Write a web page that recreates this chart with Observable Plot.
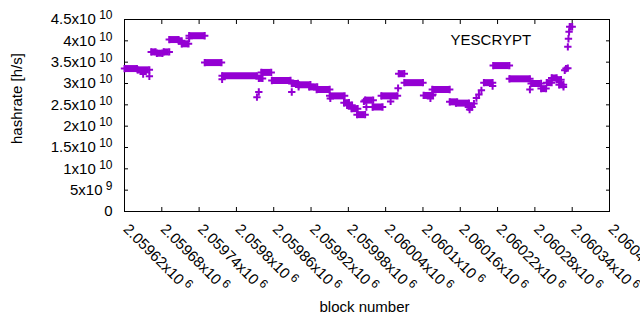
<!DOCTYPE html>
<html><head><meta charset="utf-8">
<script src="https://cdn.jsdelivr.net/npm/d3@7"></script>
<script src="https://cdn.jsdelivr.net/npm/@observablehq/plot@0.6"></script>
<style>html,body{margin:0;padding:0;background:#fff;overflow:hidden}</style>
</head><body><div id="chart"></div>
<script>
// Runs of consecutive blocks sharing one hashrate value (block numbers, h/s)
const runStart = [2059620, 2059641, 2059663, 2059672, 2059683, 2059692, 2059707, 2059712, 2059724, 2059749,
  2059777, 2059836, 2059840, 2059857, 2059889, 2059900, 2059917, 2059929, 2059950, 2059973,
  2059978, 2059985, 2059994, 2060007, 2060019, 2060033, 2060061, 2060070, 2060101, 2060115,
  2060143, 2060153, 2060173, 2060198, 2060213, 2060239, 2060274, 2060290, 2060299, 2060307,
  2060315, 2060319, 2060336];
const runEnd = [2059640, 2059660, 2059670, 2059681, 2059692, 2059707, 2059712, 2059723, 2059749, 2059776,
  2059833, 2059842, 2059856, 2059887, 2059899, 2059919, 2059930, 2059950, 2059974, 2059981,
  2059986, 2059995, 2060007, 2060020, 2060035, 2060059, 2060070, 2060100, 2060115, 2060143,
  2060155, 2060174, 2060179, 2060212, 2060239, 2060272, 2060290, 2060298, 2060307, 2060315,
  2060322, 2060326, 2060340];
const runValue = [33.5e9, 33.2e9, 37.4e9, 37.1e9, 37.4e9, 40.3e9, 40.0e9, 39.3e9, 41.2e9, 34.9e9,
  31.8e9, 31.2e9, 32.6e9, 30.7e9, 30.0e9, 29.7e9, 29.2e9, 28.6e9, 27.1e9, 25.5e9,
  24.9e9, 24.1e9, 22.7e9, 26.1e9, 24.5e9, 27.1e9, 32.3e9, 30.2e9, 27.2e9, 28.6e9,
  25.7e9, 25.4e9, 24.5e9, 30.2e9, 34.2e9, 31.1e9, 30.0e9, 28.8e9, 30.2e9, 31.3e9,
  30.9e9, 29.7e9, 43.3e9];
// Isolated blocks
const pointBlock = [2059650, 2059660, 2059724, 2059777, 2059836, 2059833, 2059889, 2059900, 2059951, 2060005,
  2060009, 2060048, 2060060, 2060112, 2060116, 2060175, 2060182, 2060186, 2060190, 2060194,
  2060212, 2060272, 2060326, 2060328, 2060330, 2060333, 2060333, 2060334, 2060335];
const pointValue = [32.2e9, 31.7e9, 40.6e9, 31.0e9, 28.0e9, 26.8e9, 28.0e9, 29.2e9, 26.5e9, 25.8e9,
  24.5e9, 25.8e9, 28.9e9, 26.5e9, 27.4e9, 23.9e9, 25.3e9, 26.6e9, 27.4e9, 28.4e9,
  29.4e9, 28.6e9, 29.2e9, 33.1e9, 33.5e9, 33.6e9, 38.6e9, 40.5e9, 42.1e9];

const xTickValues = [2059620, 2059680, 2059740, 2059800, 2059860, 2059920, 2059980, 2060040, 2060100, 2060160, 2060220, 2060280, 2060340, 2060400];
const xTickMantissa = ["2.05962", "2.05968", "2.05974", "2.0598", "2.05986", "2.05992", "2.05998", "2.06004", "2.0601", "2.06016", "2.06022", "2.06028", "2.06034", "2.0604"];
const xTickExponent = ["6", "6", "6", "6", "6", "6", "6", "6", "6", "6", "6", "6", "6", "6"];
const yTickValues = [0, 5e9, 1e10, 1.5e10, 2e10, 2.5e10, 3e10, 3.5e10, 4e10, 4.5e10];
const yTickMantissa = ["0", "5", "1", "1.5", "2", "2.5", "3", "3.5", "4", "4.5"];
const yTickExponent = ["", "9", "10", "10", "10", "10", "10", "10", "10", "10"];

const seriesName = "YESCRYPT";
const xLabel = "block number";
const yLabel = "hashrate [h/s]";
const color = "#9400D3";

const lab = (m, e) => e ? `${m}x10^${e}` : m;
const runs = runStart.map((s, i) => ({start: s, end: runEnd[i], value: runValue[i]}));
const ends = runs.flatMap(r => [{block: r.start, value: r.value}, {block: r.end, value: r.value}]);
const pts = pointBlock.map((b, i) => ({block: b, value: pointValue[i]}));
const xt = xTickValues.map((v, i) => ({v, t: lab(xTickMantissa[i], xTickExponent[i])}));
const yt = yTickValues.map((v, i) => ({v, t: lab(yTickMantissa[i], yTickExponent[i])}));

const chart = Plot.plot({
  width: 640, height: 330,
  marginLeft: 124, marginRight: 31, marginTop: 19, marginBottom: 119,
  style: {fontFamily: '"Liberation Sans", Arial, sans-serif', fontSize: "15px", background: "#fff", color: "#000"},
  x: {domain: [2059620, 2060400], axis: null},
  y: {domain: [0, 4.5e10], axis: null},
  marks: [
    Plot.axisX(xTickValues, {anchor: "bottom", tickSize: -4, fill: "none", label: null, stroke: "#000"}),
    Plot.axisX(xTickValues, {anchor: "top", tickSize: -4, fill: "none", label: null, stroke: "#000"}),
    Plot.axisY(yTickValues, {anchor: "left", tickSize: -4, fill: "none", label: null, stroke: "#000"}),
    Plot.axisY(yTickValues, {anchor: "right", tickSize: -4, fill: "none", label: null, stroke: "#000"}),
    Plot.frame({stroke: "#000"}),
    Plot.ruleY(runs, {x1: "start", x2: "end", y: "value", stroke: color, strokeWidth: 7}),
    Plot.dot(ends, {x: "block", y: "value", symbol: "plus", r: 2.5, stroke: color, strokeWidth: 2}),
    Plot.dot(pts, {x: "block", y: "value", symbol: "plus", r: 2.5, stroke: color, strokeWidth: 2}),
    Plot.text(yt, {y: "v", text: "t", frameAnchor: "left", textAnchor: "end", dx: -12, fontSize: 15, fill: "#000"}),
    Plot.text(xt, {x: "v", text: "t", frameAnchor: "bottom", textAnchor: "start", lineAnchor: "bottom", rotate: 45, dx: -2, dy: 18.6, fontSize: 15, fill: "#000"}),
    Plot.text([yLabel], {frameAnchor: "left", rotate: -90, dx: -107, dy: 28.5, fontSize: 15, fill: "#000"}),
    Plot.text([xLabel], {frameAnchor: "bottom", dx: -2.5, dy: 100.7, fontSize: 15, fill: "#000"}),
    Plot.text([seriesName], {frameAnchor: "top-right", textAnchor: "end", dx: -78.3, dy: 14.5, fontSize: 15, fill: "#000"})
  ]
});

d3.select(chart).selectAll("text").each(function () {
  const t = this.textContent;
  if (t.includes("^")) {
    const [m, e] = t.split("^");
    this.textContent = m;
    d3.select(this).append("tspan").attr("dy", "-5").attr("font-size", "12").text(" " + e);
  }
});
document.getElementById("chart").appendChild(chart);
</script>
</body></html>
